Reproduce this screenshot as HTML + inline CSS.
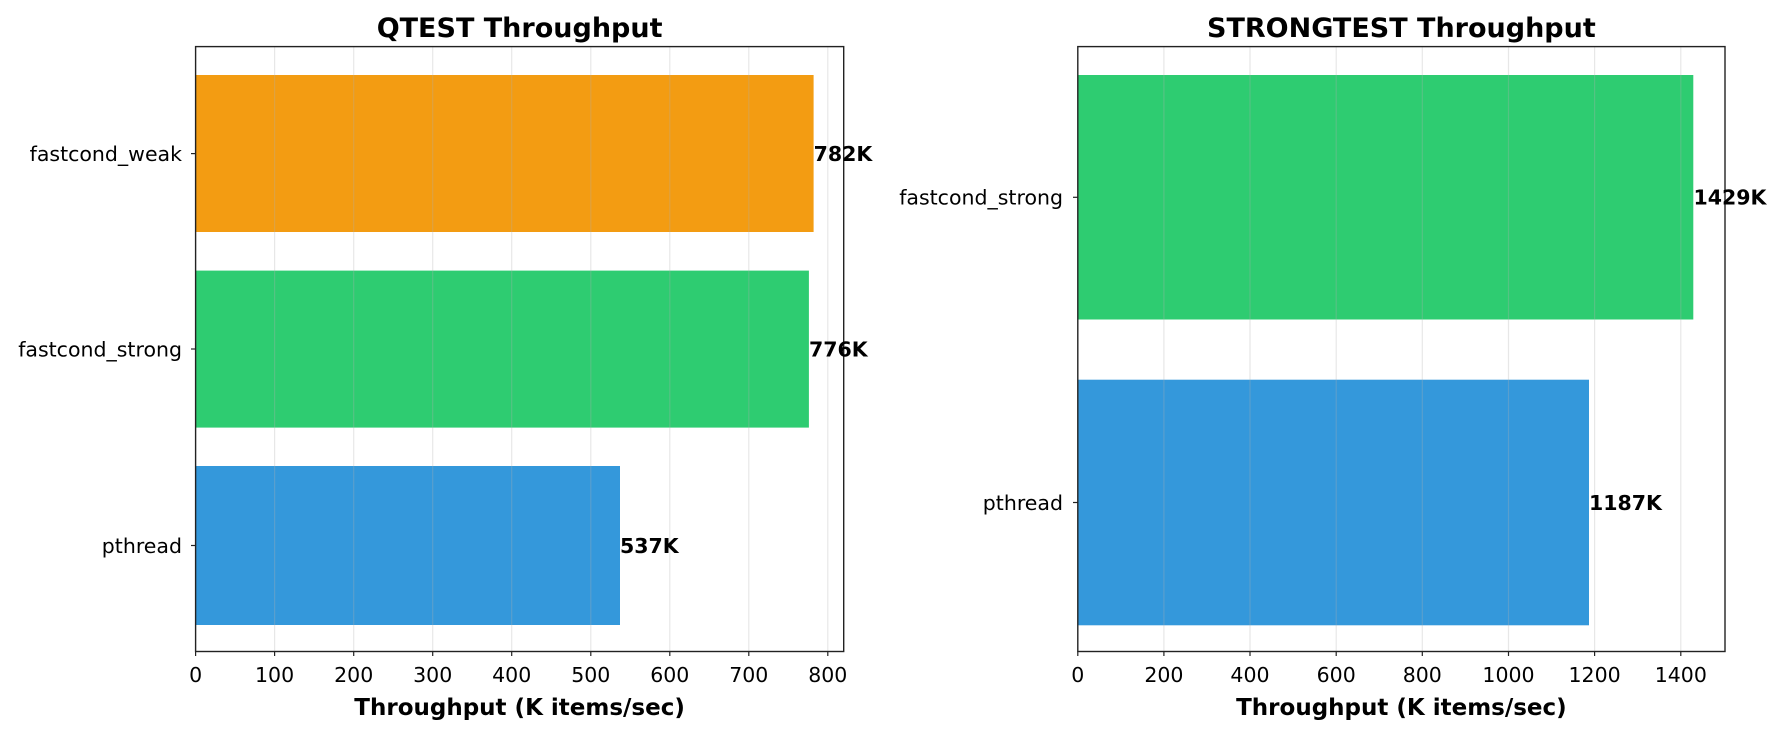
<!DOCTYPE html>
<html><head><meta charset="utf-8"><style>body{margin:0;background:#fff}svg{display:block}</style></head>
<body>
<svg width="1783" height="733" xmlns="http://www.w3.org/2000/svg" font-family="DejaVu Sans, Liberation Sans, sans-serif">
<rect width="1783" height="733" fill="#fff"/>
<!-- LEFT -->
<g>
<rect x="195.6" y="75" width="618" height="157" fill="#f39c12"/>
<rect x="195.6" y="270.6" width="613.3" height="157" fill="#2ecc71"/>
<rect x="195.6" y="466" width="424.4" height="159" fill="#3498db"/>
<g stroke="#b0b0b0" stroke-opacity="0.3" stroke-width="1.2">
<line x1="274.6" y1="46.6" x2="274.6" y2="651.5"/><line x1="353.7" y1="46.6" x2="353.7" y2="651.5"/>
<line x1="432.7" y1="46.6" x2="432.7" y2="651.5"/><line x1="511.7" y1="46.6" x2="511.7" y2="651.5"/>
<line x1="590.8" y1="46.6" x2="590.8" y2="651.5"/><line x1="669.8" y1="46.6" x2="669.8" y2="651.5"/>
<line x1="748.8" y1="46.6" x2="748.8" y2="651.5"/><line x1="827.8" y1="46.6" x2="827.8" y2="651.5"/>
</g>
<rect x="195.6" y="46.6" width="648.1" height="604.9" fill="none" stroke="#222" stroke-width="1.4"/>
<g stroke="#222" stroke-width="1.2">
<line x1="195.6" y1="651.5" x2="195.6" y2="656"/><line x1="274.6" y1="651.5" x2="274.6" y2="656"/><line x1="353.7" y1="651.5" x2="353.7" y2="656"/><line x1="432.7" y1="651.5" x2="432.7" y2="656"/><line x1="511.7" y1="651.5" x2="511.7" y2="656"/><line x1="590.8" y1="651.5" x2="590.8" y2="656"/><line x1="669.8" y1="651.5" x2="669.8" y2="656"/><line x1="748.8" y1="651.5" x2="748.8" y2="656"/><line x1="827.8" y1="651.5" x2="827.8" y2="656"/>
<line x1="191" y1="153.6" x2="195.6" y2="153.6"/><line x1="191" y1="349" x2="195.6" y2="349"/><line x1="191" y1="545.5" x2="195.6" y2="545.5"/>
</g>
<g font-size="20.5" text-anchor="middle" fill="#000">
<text x="195.6" y="682">0</text><text x="274.6" y="682">100</text><text x="353.7" y="682">200</text><text x="432.7" y="682">300</text><text x="511.7" y="682">400</text><text x="590.8" y="682">500</text><text x="669.8" y="682">600</text><text x="748.8" y="682">700</text><text x="827.8" y="682">800</text>
</g>
<g font-size="20.5" text-anchor="end" fill="#000">
<text x="182" y="161">fastcond_weak</text><text x="182" y="356.5">fastcond_strong</text><text x="182" y="553">pthread</text>
</g>
<g font-size="20.5" font-weight="bold" fill="#000">
<text x="813.6" y="161">782K</text><text x="809" y="356.5">776K</text><text x="620" y="553">537K</text>
</g>
<text x="519.6" y="37" font-size="27" font-weight="bold" text-anchor="middle">QTEST Throughput</text>
<text x="519.6" y="715" font-size="23" font-weight="bold" text-anchor="middle">Throughput (K items/sec)</text>
</g>
<!-- RIGHT -->
<g>
<rect x="1077.8" y="75" width="615.5" height="244.5" fill="#2ecc71"/>
<rect x="1077.8" y="379.7" width="511.2" height="245.6" fill="#3498db"/>
<g stroke="#b0b0b0" stroke-opacity="0.3" stroke-width="1.2">
<line x1="1163.9" y1="46.6" x2="1163.9" y2="651.5"/><line x1="1250" y1="46.6" x2="1250" y2="651.5"/><line x1="1336.2" y1="46.6" x2="1336.2" y2="651.5"/><line x1="1422.3" y1="46.6" x2="1422.3" y2="651.5"/><line x1="1508.5" y1="46.6" x2="1508.5" y2="651.5"/><line x1="1594.6" y1="46.6" x2="1594.6" y2="651.5"/><line x1="1680.8" y1="46.6" x2="1680.8" y2="651.5"/>
</g>
<rect x="1077.8" y="46.6" width="647.2" height="604.9" fill="none" stroke="#222" stroke-width="1.4"/>
<g stroke="#222" stroke-width="1.2">
<line x1="1077.8" y1="651.5" x2="1077.8" y2="656"/><line x1="1163.9" y1="651.5" x2="1163.9" y2="656"/><line x1="1250" y1="651.5" x2="1250" y2="656"/><line x1="1336.2" y1="651.5" x2="1336.2" y2="656"/><line x1="1422.3" y1="651.5" x2="1422.3" y2="656"/><line x1="1508.5" y1="651.5" x2="1508.5" y2="656"/><line x1="1594.6" y1="651.5" x2="1594.6" y2="656"/><line x1="1680.8" y1="651.5" x2="1680.8" y2="656"/>
<line x1="1073" y1="197.3" x2="1077.8" y2="197.3"/><line x1="1073" y1="502.5" x2="1077.8" y2="502.5"/>
</g>
<g font-size="20.5" text-anchor="middle" fill="#000">
<text x="1077.8" y="682">0</text><text x="1163.9" y="682">200</text><text x="1250" y="682">400</text><text x="1336.2" y="682">600</text><text x="1422.3" y="682">800</text><text x="1508.5" y="682">1000</text><text x="1594.6" y="682">1200</text><text x="1680.8" y="682">1400</text>
</g>
<g font-size="20.5" text-anchor="end" fill="#000">
<text x="1063" y="204.5">fastcond_strong</text><text x="1063" y="510">pthread</text>
</g>
<g font-size="20.5" font-weight="bold" fill="#000">
<text x="1693.5" y="204.5">1429K</text><text x="1589" y="510">1187K</text>
</g>
<text x="1401.4" y="37" font-size="27" font-weight="bold" text-anchor="middle">STRONGTEST Throughput</text>
<text x="1401.4" y="715" font-size="23" font-weight="bold" text-anchor="middle">Throughput (K items/sec)</text>
</g>
</svg>
</body></html>
